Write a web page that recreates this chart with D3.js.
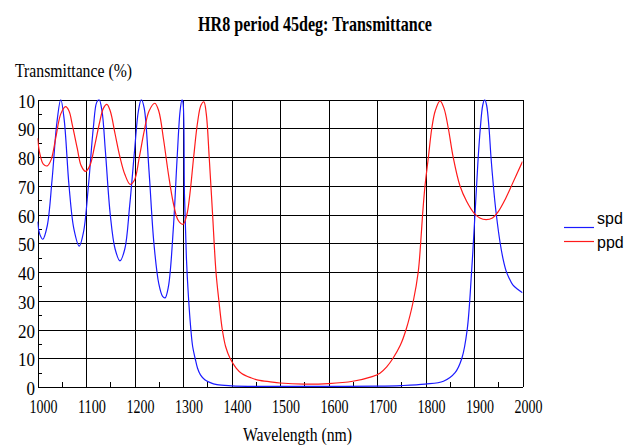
<!DOCTYPE html>
<html>
<head>
<meta charset="utf-8">
<script src="https://cdn.jsdelivr.net/npm/d3@7"></script>
<style>
  body { margin: 0; background: #fff; }
  svg text { font-family: "Liberation Serif", "DejaVu Serif", serif; fill: #000; }
  svg .leg { font-family: "Liberation Sans", Arial, sans-serif; }
</style>
</head>
<body>
<div id="chart"></div>
<script>
// wavelength grid (nm) and transmittance (%)
var spdWl = [1000, 1005, 1011, 1020, 1030, 1040, 1048, 1055, 1065, 1075, 1086, 1095, 1105, 1115, 1122, 1127,
  1133, 1140, 1150, 1160, 1170, 1180, 1190, 1200, 1208, 1214, 1220, 1230, 1240, 1250, 1258, 1263, 1270,
  1280, 1288, 1294, 1298, 1300, 1303, 1307, 1311, 1316, 1320, 1325, 1330, 1336, 1345, 1355, 1370, 1400,
  1450, 1500, 1600, 1700, 1750, 1799, 1837, 1861, 1875, 1886, 1895, 1902, 1908, 1913, 1918, 1922, 1926,
  1931, 1935, 1941, 1946, 1954, 1960, 1966, 1972, 1980, 1990, 2000];
var spdT = [57.5, 53, 51.4, 56, 72, 92, 100, 93, 70, 55, 49, 54, 70, 90, 99, 100,
  96, 82, 60, 48, 43.9, 48, 63, 82, 96, 100, 97, 75, 50, 36, 31.5, 31, 35,
  55, 80, 96, 100, 99, 67, 45, 32, 20.4, 14, 10, 6.5, 4.2, 2.5, 1.6, 0.8, 0.4,
  0.2, 0.2, 0.2, 0.3, 0.5, 1, 2, 5, 10, 20, 40, 60, 78, 90, 98, 100, 98,
  90, 80, 68, 60, 50, 44.5, 40.5, 38, 35.5, 34, 32.8];

var ppdWl = [1000, 1005, 1012, 1020, 1028, 1038, 1048, 1058, 1065, 1072, 1082, 1090, 1099, 1108, 1118, 1128,
  1136, 1143, 1150, 1160, 1170, 1180, 1191, 1200, 1210, 1220, 1230, 1242, 1250, 1260, 1270, 1280, 1290,
  1300, 1308, 1314, 1322, 1330, 1337, 1343, 1348, 1354, 1361, 1368, 1374, 1381, 1388, 1397, 1410, 1421,
  1440, 1455, 1480, 1500, 1550, 1600, 1650, 1690, 1706, 1720, 1733, 1748, 1760, 1775, 1785, 1790, 1794,
  1799, 1806, 1813, 1820, 1830, 1838, 1847, 1857, 1871, 1885, 1900, 1912, 1925, 1938, 1950, 1965, 1980, 2000];
var ppdT = [86.5, 81, 77.5, 76.9, 79, 87, 95, 97.5, 96, 91, 83, 77, 75, 77, 84, 92,
  97, 98.3, 96, 88, 80, 74, 70.5, 72, 80, 89, 96, 98.7, 96, 86, 74, 64, 58,
  56.6, 60, 66.8, 80, 92, 98, 99.2, 95, 80, 60, 40, 30, 20, 14, 10, 6.5, 4.7,
  3.2, 2.4, 1.8, 1.4, 1.0, 1.2, 2.0, 3.6, 4.8, 7, 10, 14.5, 20, 30, 40, 50, 60,
  70, 80, 90, 96, 99.5, 97, 90, 80, 70, 64.5, 60.5, 58.8, 58.2, 58.8, 61, 65.5, 71, 78.4];

var xTicks = [1000, 1100, 1200, 1300, 1400, 1500, 1600, 1700, 1800, 1900, 2000];
var yTicks = [0, 10, 20, 30, 40, 50, 60, 70, 80, 90, 100];
var yTickLabels = ["0", "10", "20", "30", "40", "50", "60", "70", "80", "90", "10"];
var seriesNames = ["spd", "ppd"];

var W = 640, H = 446;
var svg = d3.select("#chart").append("svg").attr("width", W).attr("height", H);

var x = d3.scaleLinear().domain([1000, 2000]).range([37.5, 522.5]);
var y = d3.scaleLinear().domain([0, 100]).range([387, 99.5]);

// title + axis titles (condensed serif like the original)
svg.append("text").attr("x", 198).attr("y", 31)
    .attr("font-size", 21).attr("font-weight", "bold")
    .attr("textLength", 234).attr("lengthAdjust", "spacingAndGlyphs")
    .text("HR8 period 45deg: Transmittance");
svg.append("text").attr("x", 15).attr("y", 77)
    .attr("font-size", 19)
    .attr("textLength", 117).attr("lengthAdjust", "spacingAndGlyphs")
    .text("Transmittance (%)");
svg.append("text").attr("x", 243).attr("y", 441)
    .attr("font-size", 19)
    .attr("textLength", 109).attr("lengthAdjust", "spacingAndGlyphs")
    .text("Wavelength (nm)");

// grid
var grid = svg.append("g").attr("shape-rendering", "crispEdges").attr("stroke", "#000").attr("stroke-width", 1);
grid.selectAll(".h").data(yTicks).enter().append("line")
    .attr("x1", x(1000)).attr("x2", x(2000))
    .attr("y1", function(d) { return Math.round(y(d)) + 0.5; })
    .attr("y2", function(d) { return Math.round(y(d)) + 0.5; });
grid.selectAll(".v").data(xTicks).enter().append("line")
    .attr("x1", function(d) { return Math.round(x(d)) + 0.5; })
    .attr("x2", function(d) { return Math.round(x(d)) + 0.5; })
    .attr("y1", y(100)).attr("y2", y(0));

// minor ticks
var minorY = d3.range(5, 100, 10);
grid.selectAll(".my").data(minorY).enter().append("line")
    .attr("x1", x(1000)).attr("x2", x(1000) + 4)
    .attr("y1", function(d) { return Math.round(y(d)) + 0.5; })
    .attr("y2", function(d) { return Math.round(y(d)) + 0.5; });
var minorX = d3.range(1050, 2000, 100);
grid.selectAll(".mx").data(minorX).enter().append("line")
    .attr("x1", function(d) { return Math.round(x(d)) + 0.5; })
    .attr("x2", function(d) { return Math.round(x(d)) + 0.5; })
    .attr("y1", y(0)).attr("y2", y(0) - 5);

// tick labels
svg.selectAll(".yl").data(yTicks).enter().append("text")
    .attr("x", 35).attr("y", function(d) { return y(d) + 8; })
    .attr("text-anchor", "end").attr("font-size", 19)
    .attr("textLength", function(d, i) { return yTickLabels[i].length * 8.5; })
    .attr("lengthAdjust", "spacingAndGlyphs")
    .text(function(d, i) { return yTickLabels[i]; });
svg.selectAll(".xl").data(xTicks).enter().append("text")
    .attr("x", function(d) { return x(d) - 8; }).attr("y", 413)
    .attr("font-size", 19)
    .attr("textLength", 28).attr("lengthAdjust", "spacingAndGlyphs")
    .text(function(d) { return d; });

// curves
svg.append("clipPath").attr("id", "plot").append("rect")
    .attr("x", x(1000)).attr("y", y(100)).attr("width", x(2000) - x(1000)).attr("height", y(0) - y(100));

var line = d3.line().x(function(d) { return x(d[0]); }).y(function(d) { return y(d[1]); })
    .curve(d3.curveCatmullRom.alpha(0.5));

var series = [
  { name: seriesNames[0], color: "#1a1aff", pts: d3.zip(spdWl, spdT) },
  { name: seriesNames[1], color: "#ff1a1a", pts: d3.zip(ppdWl, ppdT) }
];

svg.append("g").attr("clip-path", "url(#plot)")
  .selectAll("path").data(series).enter().append("path")
    .attr("fill", "none").attr("stroke", function(d) { return d.color; })
    .attr("stroke-width", 1.2)
    .attr("d", function(d) { return line(d.pts); });

// legend
var leg = svg.selectAll(".lg").data(series).enter().append("g")
    .attr("transform", function(d, i) { return "translate(0," + (i * 14) + ")"; });
leg.append("line").attr("x1", 564).attr("x2", 594).attr("y1", 227.5).attr("y2", 227.5)
    .attr("stroke", function(d) { return d.color; }).attr("stroke-width", 1.2);
leg.append("text").attr("class", "leg").attr("x", 597).attr("y", function(d, i) { return 224 + i * 10; })
    .attr("font-size", 16).text(function(d) { return d.name; });
</script>
</body>
</html>
